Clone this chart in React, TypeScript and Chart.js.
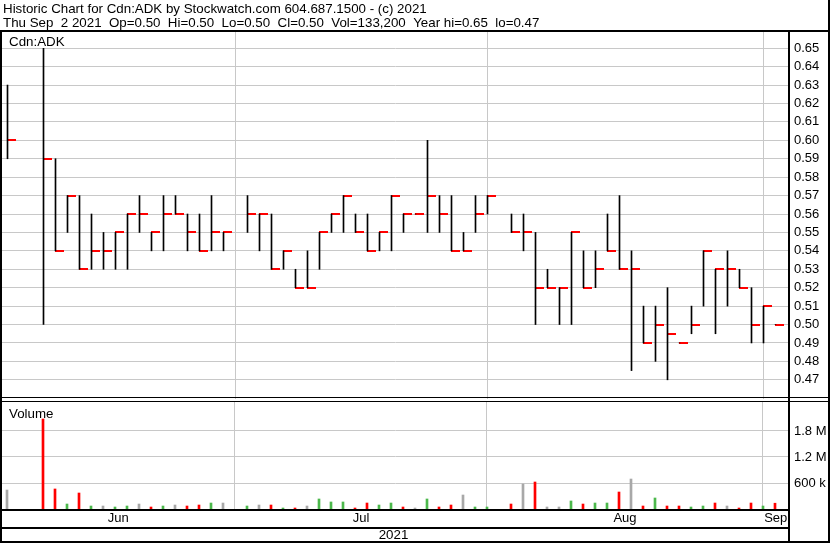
import React, { useEffect, useRef } from 'react';
import { Chart, registerables } from 'chart.js';

Chart.register(...registerables);

// ---------- data ----------
const dates = [
  'Jun 4', 'Jun 7', 'Jun 8', 'Jun 9', 'Jun 10', 'Jun 11', 'Jun 14', 'Jun 15', 'Jun 16', 'Jun 17',
  'Jun 18', 'Jun 21', 'Jun 22', 'Jun 23', 'Jun 24', 'Jun 25', 'Jun 28', 'Jun 29', 'Jun 30', 'Jul 1',
  'Jul 2', 'Jul 5', 'Jul 6', 'Jul 7', 'Jul 8', 'Jul 9', 'Jul 12', 'Jul 13', 'Jul 14', 'Jul 15',
  'Jul 16', 'Jul 19', 'Jul 20', 'Jul 21', 'Jul 22', 'Jul 23', 'Jul 26', 'Jul 27', 'Jul 28', 'Jul 29',
  'Jul 30', 'Aug 2', 'Aug 3', 'Aug 4', 'Aug 5', 'Aug 6', 'Aug 9', 'Aug 10', 'Aug 11', 'Aug 12',
  'Aug 13', 'Aug 16', 'Aug 17', 'Aug 18', 'Aug 19', 'Aug 20', 'Aug 23', 'Aug 24', 'Aug 25', 'Aug 26',
  'Aug 27', 'Aug 30', 'Aug 31', 'Sep 1', 'Sep 2',
];

const highs: (number | null)[] = [
  0.63, null, null, 0.65, 0.59, 0.57, 0.57, 0.56, 0.55, 0.55,
  0.56, 0.57, 0.55, 0.57, 0.57, 0.56, 0.56, 0.57, 0.55, null,
  0.57, 0.56, 0.56, 0.54, 0.53, 0.54, 0.55, 0.56, 0.57, 0.56,
  0.56, 0.55, 0.57, 0.56, 0.56, 0.60, 0.57, 0.57, 0.55, 0.57,
  0.57, null, 0.56, 0.56, 0.55, 0.53, 0.52, 0.55, 0.54, 0.54,
  0.56, 0.57, 0.54, 0.51, 0.51, 0.52, 0.49, 0.51, 0.54, 0.53,
  0.54, 0.53, 0.52, 0.51, 0.50,
];

const lows: (number | null)[] = [
  0.59, null, null, 0.50, 0.54, 0.55, 0.53, 0.53, 0.53, 0.53,
  0.53, 0.55, 0.54, 0.54, 0.56, 0.54, 0.54, 0.54, 0.54, null,
  0.55, 0.54, 0.53, 0.53, 0.52, 0.52, 0.53, 0.55, 0.55, 0.55,
  0.54, 0.54, 0.54, 0.55, 0.56, 0.55, 0.55, 0.54, 0.54, 0.55,
  0.56, null, 0.55, 0.54, 0.50, 0.52, 0.50, 0.50, 0.52, 0.52,
  0.54, 0.53, 0.475, 0.49, 0.48, 0.47, 0.49, 0.495, 0.51, 0.495,
  0.51, 0.52, 0.49, 0.49, 0.50,
];

const closes: (number | null)[] = [
  0.60, null, null, 0.59, 0.54, 0.57, 0.53, 0.54, 0.54, 0.55,
  0.56, 0.56, 0.55, 0.56, 0.56, 0.55, 0.54, 0.55, 0.55, null,
  0.56, 0.56, 0.53, 0.54, 0.52, 0.52, 0.55, 0.56, 0.57, 0.55,
  0.54, 0.55, 0.57, 0.56, 0.56, 0.57, 0.56, 0.54, 0.54, 0.56,
  0.57, null, 0.55, 0.55, 0.52, 0.52, 0.52, 0.55, 0.52, 0.53,
  0.54, 0.53, 0.53, 0.49, 0.50, 0.495, 0.49, 0.50, 0.54, 0.53,
  0.53, 0.52, 0.50, 0.51, 0.50,
];

const volumes: (number | null)[] = [
  438000, null, null, 2077000, 462000, 115000, 369000, 69000, 69000, 46000,
  69000, 115000, 46000, 69000, 92000, 69000, 92000, 138000, 138000, null,
  69000, 92000, 92000, 23000, 23000, 69000, 231000, 162000, 162000, 23000,
  138000, 92000, 138000, 46000, 23000, 231000, 46000, 92000, 323000, 46000,
  46000, null, 115000, 577000, 623000, 46000, 46000, 185000, 115000, 138000,
  138000, 392000, 692000, 69000, 254000, 69000, 69000, 46000, 69000, 138000,
  69000, 23000, 138000, 69000, 133200,
];

const priceTicks = [
  0.47, 0.48, 0.49, 0.5, 0.51, 0.52, 0.53, 0.54, 0.55, 0.56,
  0.57, 0.58, 0.59, 0.6, 0.61, 0.62, 0.63, 0.64, 0.65,
];
const volTicks = [600000, 1200000, 1800000];
const volTickLabels = ['600 k', '1.2 M', '1.8 M'];
const monthGridSlots = [19, 40, 63];
const monthLabels = ['Jun', 'Jul', 'Aug', 'Sep'];

const headerLines = [
  'Historic Chart for Cdn:ADK by Stockwatch.com 604.687.1500 - (c) 2021',
  'Thu Sep  2 2021  Op=0.50  Hi=0.50  Lo=0.50  Cl=0.50  Vol=133,200  Year hi=0.65  lo=0.47',
];
const symbolLabel = 'Cdn:ADK';
const volumeLabel = 'Volume';
const yearLabel = '2021';

// ---------- layout / style ----------
const FONT = '"Liberation Sans", Arial, Helvetica, sans-serif';
const GRID = '#c8c8c8';
const RED = '#ff0000';
const GREEN = '#4cb84c';
const GRAY = '#a8a8a8';
const SLOT_PX = 12;
const PLOT_W = 787;
const X_MIN = -5.5 / SLOT_PX;
const X_MAX = X_MIN + PLOT_W / SLOT_PX;
const VX_MIN = X_MIN + 0.5 / SLOT_PX;
const VX_MAX = X_MAX + 0.5 / SLOT_PX;
const PRICE_MIN = 0.45958;
const PRICE_MAX = 0.6588;
const VOL_MAX = (107 * 600000) / 26;

Chart.defaults.font.family = FONT;

function makeCloseTick(): HTMLCanvasElement {
  const c = document.createElement('canvas');
  c.width = 19;
  c.height = 2;
  const g = c.getContext('2d')!;
  g.fillStyle = RED;
  g.fillRect(9, 0, 9, 2);
  return c;
}

function volColors(): string[] {
  const out: string[] = [];
  let prev: number | null = null;
  closes.forEach((c) => {
    if (c == null) return;
    if (prev == null || c === prev) out.push(GRAY);
    else out.push(c > prev ? GREEN : RED);
    prev = c;
  });
  return out;
}

const noPad = (s: any) => {
  s.paddingTop = 0;
  s.paddingBottom = 0;
  s.paddingLeft = 0;
  s.paddingRight = 0;
};

const priceFrame = {
  id: 'priceFrame',
  afterDraw(chart: any) {
    const { ctx, chartArea: a, width, height } = chart;
    ctx.save();
    ctx.fillStyle = '#000';
    ctx.font = `13.33px ${FONT}`;
    ctx.textBaseline = 'alphabetic';
    ctx.textAlign = 'left';
    ctx.fillText(headerLines[0], 3, 12.7);
    ctx.fillText(headerLines[1], 3, 27.3);
    ctx.fillText(symbolLabel, 9, 45.7);
    ctx.fillRect(0, a.top - 2, width, 2);
    ctx.fillRect(0, a.top - 2, 2, height);
    ctx.fillRect(width - 2, 0, 2, height);
    ctx.fillRect(a.right - 1, a.top - 2, 2, height);
    ctx.fillRect(2, a.bottom - 2, width - 2, 1);
    ctx.restore();
  },
};

const volFrame = {
  id: 'volFrame',
  afterDraw(chart: any) {
    const { ctx, chartArea: a, width, height } = chart;
    ctx.save();
    ctx.fillStyle = '#000';
    ctx.fillRect(2, a.top - 1, width - 2, 1);
    ctx.fillRect(0, 0, 2, height);
    ctx.fillRect(width - 2, 0, 2, height);
    ctx.fillRect(a.right - 1, 0, 2, height);
    ctx.fillRect(0, a.bottom, a.right + 1, 2);
    ctx.fillRect(0, a.bottom + 18, a.right + 1, 2);
    ctx.fillRect(0, height - 2, width, 2);
    ctx.font = `13.33px ${FONT}`;
    ctx.textBaseline = 'alphabetic';
    ctx.textAlign = 'left';
    ctx.fillText(volumeLabel, 9, a.top + 16);
    ctx.textAlign = 'center';
    ctx.fillText(yearLabel, (a.left + a.right) / 2 - 2, height - 4);
    ctx.restore();
  },
};

export default function App() {
  const priceRef = useRef<HTMLCanvasElement>(null);
  const volRef = useRef<HTMLCanvasElement>(null);

  useEffect(() => {
    const tick = makeCloseTick();
    const hlData: any[] = [];
    const closeData: any[] = [];
    const volData: any[] = [];
    highs.forEach((h, i) => {
      const l = lows[i];
      const c = closes[i];
      if (h != null && l != null) hlData.push({ x: i, y: [l, h] });
      if (c != null) closeData.push({ x: i, y: c });
      const v = volumes[i];
      if (v != null) volData.push({ x: i, y: v });
    });

    const edges = [X_MIN, ...monthGridSlots, X_MAX];
    const monthTicks = monthLabels.map((m, k) => ({ value: (edges[k] + edges[k + 1]) / 2, txt: m }));

    const priceChart = new Chart(priceRef.current!, {
      type: 'bar',
      data: {
        datasets: [
          {
            type: 'bar',
            data: hlData,
            backgroundColor: '#000',
            borderWidth: 0,
            barThickness: 1,
            grouped: false,
          } as any,
          {
            type: 'scatter',
            data: closeData,
            pointStyle: tick as any,
            pointRadius: 1,
            pointHoverRadius: 1,
            showLine: false,
          } as any,
        ],
      },
      options: {
        responsive: false,
        animation: false,
        devicePixelRatio: 1,
        events: [],
        layout: { padding: { top: 32, left: 2, right: 1, bottom: 0 } },
        plugins: { legend: { display: false }, tooltip: { enabled: false } },
        scales: {
          x: {
            type: 'linear',
            min: X_MIN,
            max: X_MAX,
            offset: false,
            border: { display: false },
            grid: { color: GRID, drawTicks: false, offset: false },
            ticks: { display: false },
            afterBuildTicks: (s: any) => {
              s.ticks = monthGridSlots.map((v) => ({ value: v }));
            },
            afterFit: (s: any) => {
              s.height = 0;
              noPad(s);
            },
          } as any,
          y: {
            type: 'linear',
            position: 'right',
            min: PRICE_MIN,
            max: PRICE_MAX,
            border: { display: false },
            grid: { color: GRID, drawTicks: false },
            ticks: {
              padding: 5,
              color: '#000',
              autoSkip: false,
              font: { family: FONT, size: 13 },
              callback: (v: any) => Number(v).toFixed(2),
            },
            afterBuildTicks: (s: any) => {
              s.ticks = priceTicks.map((v) => ({ value: v }));
            },
            afterFit: (s: any) => {
              s.width = 40;
              noPad(s);
            },
          } as any,
        },
      },
      plugins: [priceFrame],
    });

    const volChart = new Chart(volRef.current!, {
      type: 'bar',
      data: {
        datasets: [
          {
            type: 'bar',
            data: volData,
            backgroundColor: volColors(),
            borderWidth: 0,
            barThickness: 2,
            grouped: false,
          } as any,
        ],
      },
      options: {
        responsive: false,
        animation: false,
        devicePixelRatio: 1,
        events: [],
        layout: { padding: { top: 1, left: 2, right: 1, bottom: 0 } },
        plugins: { legend: { display: false }, tooltip: { enabled: false } },
        scales: {
          x: {
            type: 'linear',
            min: VX_MIN,
            max: VX_MAX,
            offset: false,
            border: { display: false },
            grid: {
              offset: false,
              drawTicks: false,
              color: (c: any) => (c.tick && monthGridSlots.includes(c.tick.value) ? GRID : 'rgba(0,0,0,0)'),
            },
            ticks: {
              autoSkip: false,
              maxRotation: 0,
              minRotation: 0,
              padding: 1.5,
              color: '#000',
              font: { family: FONT, size: 13 },
              callback: (_v: any, i: number, ts: any[]) => (ts[i] && ts[i].txt) || '',
            },
            afterBuildTicks: (s: any) => {
              const all = [...monthGridSlots.map((v) => ({ value: v, txt: '' })), ...monthTicks];
              all.sort((p, q) => p.value - q.value);
              s.ticks = all;
            },
            afterFit: (s: any) => {
              s.height = 34;
              noPad(s);
            },
          } as any,
          y: {
            type: 'linear',
            position: 'right',
            min: 0,
            max: VOL_MAX,
            border: { display: false },
            grid: { color: GRID, drawTicks: false },
            ticks: {
              padding: 5,
              color: '#000',
              autoSkip: false,
              font: { family: FONT, size: 13 },
              callback: (_v: any, i: number) => volTickLabels[i] || '',
            },
            afterBuildTicks: (s: any) => {
              s.ticks = volTicks.map((v) => ({ value: v }));
            },
            afterFit: (s: any) => {
              s.width = 40;
              noPad(s);
            },
          } as any,
        },
      },
      plugins: [volFrame],
    });

    return () => {
      priceChart.destroy();
      volChart.destroy();
    };
  }, []);

  return (
    <div style={{ position: 'absolute', left: 0, top: 0, width: 830, height: 543, background: '#fff' }}>
      <canvas ref={priceRef} width={830} height={401} style={{ position: 'absolute', left: 0, top: 0 }} />
      <canvas ref={volRef} width={830} height={142} style={{ position: 'absolute', left: 0, top: 401 }} />
    </div>
  );
}
